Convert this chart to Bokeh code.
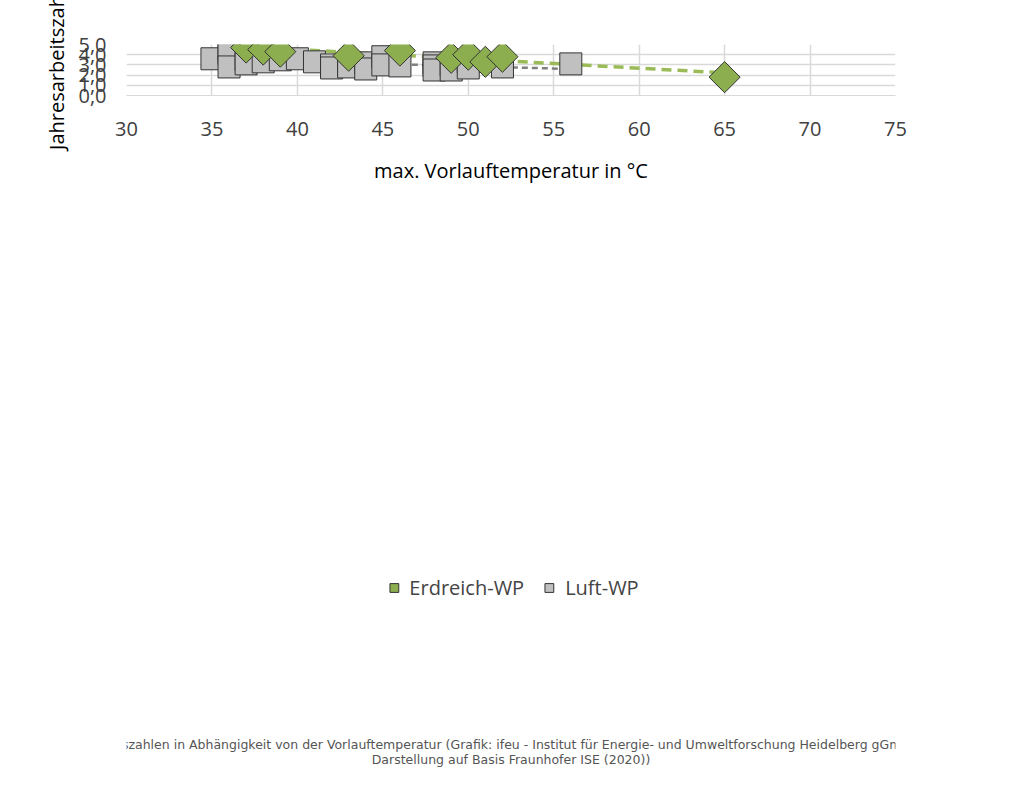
import math
from bokeh.plotting import figure
from bokeh.models import FixedTicker, Legend, LegendItem, Range1d, ColumnDataSource
from bokeh.layouts import column
from bokeh.core.properties import value
from bokeh.embed import file_html
from bokeh.resources import INLINE

erd_x = [37, 38, 39, 43, 46, 49, 50, 51, 52, 65]
erd_y = [4.7, 4.5, 4.3, 3.9, 4.4, 3.7, 4.0, 3.3, 3.8, 1.8]
luft_x = [35, 36, 36, 36, 37, 37, 38, 39, 40, 41, 42, 42, 43, 43, 44, 44, 45, 45, 46, 48, 48, 48, 49, 49, 50, 50, 52, 56]
luft_y = [3.6, 4.6, 4.1, 2.8, 3.5, 3.1, 3.3, 3.5, 3.6, 3.3, 3.0, 2.7, 3.1, 2.8, 3.2, 2.6, 3.8, 3.0, 2.9, 3.2, 2.9, 2.5, 3.0, 2.5, 3.3, 2.7, 2.8, 3.1]
erd_trend_x = [37, 65]
erd_trend_y = [4.78, 2.22]
luft_trend_x = [35, 56]
luft_trend_y = [3.55, 2.6]
x_ticks = [30, 35, 40, 45, 50, 55, 60, 65, 70, 75]
y_ticks = [0, 1, 2, 3, 4, 5]
y_labels = ["0,0", "1,0", "2,0", "3,0", "4,0", "5,0"]
caption = ["Jahresarbeitszahlen in Abhängigkeit von der Vorlauftemperatur (Grafik: ifeu - Institut für Energie- und Umweltforschung Heidelberg gGmbH / Quelle:",
           "Darstellung auf Basis Fraunhofer ISE (2020))"]

F = "Open Sans"
p = figure(width=1008, height=730, output_backend="svg", toolbar_location=None,
           x_range=Range1d(30, 75), y_range=Range1d(0, 5),
           min_border_left=126, min_border_right=113, min_border_top=44, min_border_bottom=186)
p.outline_line_color = None
p.grid.grid_line_color = "#d9d9d9"
p.grid.grid_line_width = 1.5
for ax in (p.xaxis[0], p.yaxis[0]):
    ax.axis_line_color = None
    ax.major_tick_line_color = None
    ax.minor_tick_line_color = None
    ax.major_label_text_font = F
    ax.major_label_text_font_size = "20px"
    ax.major_label_text_color = "#404040"
    ax.axis_label_text_font = F
    ax.axis_label_text_font_size = "20px"
    ax.axis_label_text_font_style = "normal"
    ax.axis_label_text_color = "#000000"
p.xaxis[0].axis_line_color = "#d9d9d9"
p.xaxis.ticker = FixedTicker(ticks=x_ticks)
p.yaxis.ticker = FixedTicker(ticks=y_ticks)
p.yaxis.major_label_overrides = {t: l for t, l in zip(y_ticks, y_labels)}
p.xaxis.axis_label = "max. Vorlauftemperatur in °C"
p.yaxis.axis_label = "Jahresarbeitszahl"
p.xaxis.major_label_standoff = 20
p.xaxis.axis_label_standoff = 18
p.yaxis.major_label_standoff = 14

p.line(erd_trend_x, erd_trend_y, line_color="#9bbb59", line_width=3.5, line_dash="10 6")
p.line(luft_trend_x, luft_trend_y, line_color="#808080", line_width=2.5, line_dash="6 4")
r2 = p.scatter(luft_x, luft_y, marker="square", size=22, fill_color="#c0c0c0", line_color="#333333", line_width=1)
r1 = p.scatter(erd_x, erd_y, marker="square", angle=math.pi / 4, size=22, fill_color="#8cae4f", line_color="#333333", line_width=1)

leg = Legend(items=[LegendItem(label="Erdreich-WP", renderers=[r1]), LegendItem(label="Luft-WP", renderers=[r2])],
             orientation="horizontal", location="center", label_text_font=F, label_text_font_size="20px",
             border_line_color=None, background_fill_alpha=0, glyph_width=22, glyph_height=22, spacing=14, margin=22)
p.add_layout(leg, "below")

c = figure(width=1008, height=50, output_backend="svg", toolbar_location=None,
           x_range=Range1d(0, 1008), y_range=Range1d(50, 0), min_border=0)
c.outline_line_color = None
c.axis.visible = False
c.grid.visible = False
src = ColumnDataSource(dict(x=[504, 504], y=[14, 29], t=caption))
c.text("x", "y", text="t", source=src, text_align="center", text_baseline="middle",
       text_font=value("DejaVu Sans"), text_font_size="12.5px", text_color="#555555")

open("out.html", "w").write(file_html(column(p, c, spacing=0), INLINE))
